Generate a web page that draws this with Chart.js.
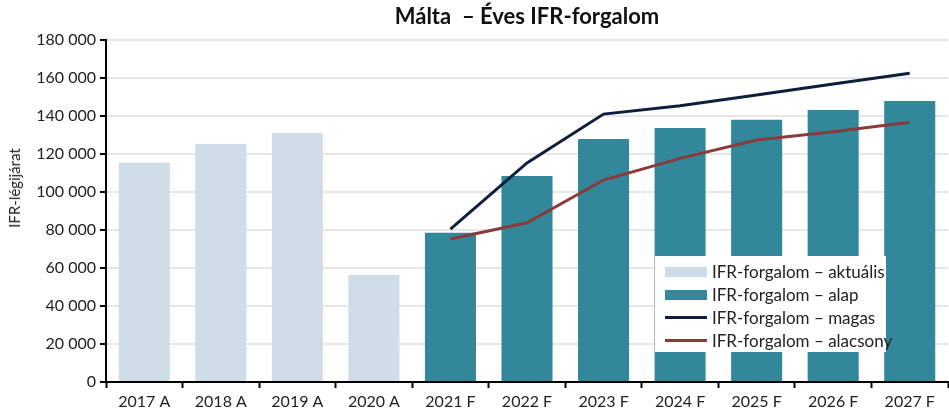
<!DOCTYPE html>
<html>
<head>
<meta charset="utf-8">
<script src="https://cdn.jsdelivr.net/npm/chart.js@4/dist/chart.umd.min.js"></script>
<style>
	html, body { margin: 0; padding: 0; background: #fff; }
	#wrap { position: relative; width: 949px; height: 416px; }
	#legend {
		position: absolute; left: 655px; top: 256px; width: 231px; height: 96px;
		background: #fff; font-family: Lato, "Open Sans", sans-serif; font-size: 17px; color: #222;
		padding: 4px 0 0 10px; box-sizing: border-box; white-space: nowrap;
	}
	#legend .row { display: flex; align-items: center; height: 23px; }
	#legend .sw { width: 42px; margin-right: 5px; flex: none; }
	#ytitle {
		position: absolute; left: 14px; top: 188px; transform: translate(-50%, -50%) rotate(-90deg);
		font-family: Lato, "Open Sans", sans-serif; font-size: 15px; color: #222; white-space: nowrap;
	}
</style>
</head>
<body>
<div id="wrap">
	<canvas id="chartMix" width="949" height="416"></canvas>
	<div id="ytitle">IFR-légijárat</div>
	<div id="legend"></div>
</div>
<script>
const labels = ['2017 A', '2018 A', '2019 A', '2020 A', '2021 F', '2022 F', '2023 F', '2024 F', '2025 F', '2026 F', '2027 F'];
const actual = [115400, 125300, 131000, 56300, null, null, null, null, null, null, null];
const base = [null, null, null, null, 78600, 108400, 127900, 133700, 138000, 143200, 147900];
const high = [null, null, null, null, 80400, 115300, 141000, 145400, 151000, 156800, 162500];
const low = [null, null, null, null, 75300, 83800, 106300, 117700, 127400, 131700, 136700];
const yTicks = [0, 20000, 40000, 60000, 80000, 100000, 120000, 140000, 160000, 180000];

const fmt = (v) => String(v).replace(/\B(?=(\d{3})+(?!\d))/g, ' ');
const font = { family: 'Lato, "Open Sans", sans-serif', size: 16 };

const chart = new Chart(document.getElementById('chartMix'), {
	type: 'bar',
	data: {
		labels: labels,
		datasets: [
			{ label: 'IFR-forgalom – aktuális', data: actual, backgroundColor: '#cfdde9', order: 2 },
			{ label: 'IFR-forgalom – alap', data: base, backgroundColor: '#33879b', order: 2 },
			{ type: 'line', label: 'IFR-forgalom – magas', data: high, borderColor: '#0d1f3c', borderWidth: 3, pointRadius: 0, tension: 0, order: 1 },
			{ type: 'line', label: 'IFR-forgalom – alacsony', data: low, borderColor: '#8b3a3a', borderWidth: 3, pointRadius: 0, tension: 0, order: 1 },
		],
	},
	options: {
		responsive: false,
		animation: false,
		datasets: { bar: { grouped: false, barPercentage: 0.667, categoryPercentage: 1 } },
		layout: { padding: { left: 0, right: 1, top: 0, bottom: 0 } },
		plugins: {
			legend: { display: false },
			tooltip: { enabled: false },
			title: {
				display: true,
				fullSize: false,
				text: 'Málta  – Éves IFR-forgalom',
				color: '#111',
				font: { family: font.family, size: 22, weight: 'bold' },
				padding: { top: 4, bottom: 9.6 },
			},
		},
		scales: {
			x: {
				afterFit: (axis) => { axis.height = 34; },
				grid: { offset: true, drawOnChartArea: false, tickColor: '#000', tickLength: 6, tickWidth: 2 },
				border: { color: '#000', width: 2 },
				ticks: { color: '#222', font: font, padding: 4, maxRotation: 0 },
			},
			y: {
				min: 0,
				max: 180000,
				afterFit: (axis) => { axis.width = 106; },
				afterBuildTicks: (axis) => { axis.ticks = yTicks.map((v) => ({ value: v })); },
				grid: { color: '#e6e6e6', lineWidth: 2, tickColor: '#000', tickLength: 6, tickWidth: 2 },
				border: { color: '#000', width: 2 },
				ticks: { color: '#222', font: font, padding: 4, callback: (v) => fmt(v) },
			},
		},
	},
});

// html legend built from the chart datasets
const legend = document.getElementById('legend');
chart.data.datasets.forEach((ds) => {
	const row = document.createElement('div');
	row.className = 'row';
	const sw = document.createElement('span');
	sw.className = 'sw';
	if (ds.type === 'line') {
		sw.style.height = '3px';
		sw.style.background = ds.borderColor;
	} else {
		sw.style.height = '10px';
		sw.style.background = ds.backgroundColor;
	}
	const txt = document.createElement('span');
	txt.textContent = ds.label;
	row.appendChild(sw);
	row.appendChild(txt);
	legend.appendChild(row);
});
</script>
</body>
</html>
